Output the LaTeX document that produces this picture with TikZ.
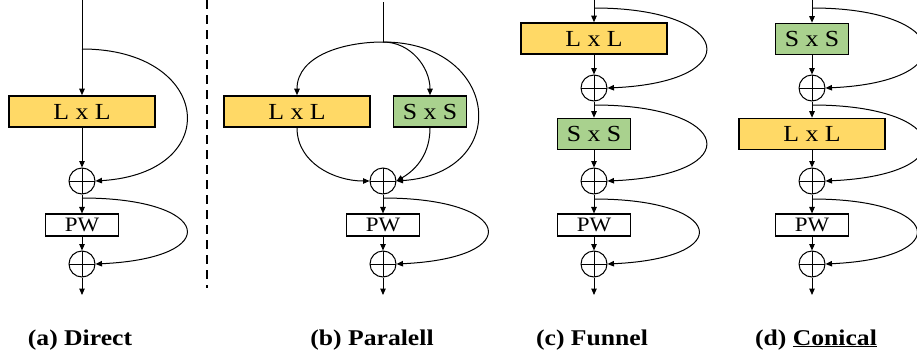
\documentclass[tikz,border=0pt]{standalone}
\usepackage{fontspec}
\setmainfont{Liberation Serif}
\newfontfamily\figfont[FakeStretch=1.12]{Liberation Serif}
\newfontfamily\capfont[FakeStretch=1.14]{Liberation Serif}
\usetikzlibrary{arrows.meta, positioning}
\definecolor{lyellow}{RGB}{255,217,102}
\definecolor{sgreen}{RGB}{169,209,142}

\begin{document}
\begin{tikzpicture}[
    x=1pt, y=1pt,
    on grid,
    >={Triangle[length=6.5pt, width=5.5pt]},
    every path/.style={line width=1pt},
    kbox/.style={draw, line width=1.6pt, inner sep=0pt, minimum height=31pt, font=\figfont\fontsize{23}{23}\selectfont},
    lbox/.style={kbox, fill=lyellow, minimum width=146pt},
    sbox/.style={kbox, fill=sgreen, minimum width=73pt},
    pwbox/.style={draw, line width=1.1pt, inner sep=0pt, minimum width=73pt, minimum height=22pt, font=\figfont\fontsize{20.5}{20.5}\selectfont},
    sumnode/.style={draw, circle, inner sep=0pt, minimum size=26pt,
        path picture={\draw[line width=0.9pt] (path picture bounding box.north) -- (path picture bounding box.south)
                                              (path picture bounding box.west) -- (path picture bounding box.east);}},
    caption/.style={anchor=base, font=\capfont\bfseries\fontsize{22.5}{22.5}\selectfont}
]
   \useasboundingbox (0,0) rectangle (917,-356);

   % (a) Direct
   \coordinate (aIn) at (82,0);
   \node[lbox] (aL) at (82,-111.5) {L x L};
   \node[sumnode] (aSum1) [below=69.5pt of aL] {};
   \node[pwbox] (aPW) [below=44pt of aSum1] {PW};
   \node[sumnode] (aSum2) [below=39pt of aPW] {};
   \coordinate[below=31pt of aSum2] (aOut);
   \coordinate (aB1) at (82,-49);
   \coordinate[below=17pt of aSum1] (aB2);

   \path[->]
   (aIn) edge (aL)
   (aL) edge (aSum1)
   (aSum1) edge (aPW)
   (aPW) edge (aSum2)
   (aSum2) edge (aOut);
   \draw[->] (aB1) .. controls +(130,0) and +(130,8) .. (aSum1.east);
   \draw[->] (aB2) .. controls +(130,0) and +(130,6) .. (aSum2.east);

   % separator
   \draw[dashed, line width=2.6pt, dash pattern=on 9pt off 6pt] (207,0) -- (207,-288);

   % (b) Paralell
   \coordinate (bIn) at (383,-2);
   \coordinate (bB) at (383,-42);
   \node[lbox] (bL) at (297,-111.5) {L x L};
   \node[sbox] (bS) at (430,-111.5) {S x S};
   \node[sumnode] (bSum1) at (383,-181) {};
   \node[pwbox] (bPW) [below=44pt of bSum1] {PW};
   \node[sumnode] (bSum2) [below=39pt of bPW] {};
   \coordinate[below=31pt of bSum2] (bOut);
   \coordinate[below=17pt of bSum1] (bB2);

   \draw (bIn) -- (bB);
   \draw[->] (bB) to[out=180, in=90] (bL.north);
   \draw[->] (bB) to[out=0, in=90] (bS.north);
   \draw[->] (bB) .. controls +(117,0) and +(117,8) .. (bSum1.east);
   \draw[->] (bL.south) to[out=-90, in=180] (bSum1.west);
   \draw[->] (bS.south) to[out=-90, in=30] (bSum1.east);
   \path[->]
   (bSum1) edge (bPW)
   (bPW) edge (bSum2)
   (bSum2) edge (bOut);
   \draw[->] (bB2) .. controls +(130,0) and +(130,6) .. (bSum2.east);

   % (c) Funnel
   \coordinate (cIn) at (594,0);
   \coordinate (cB1) at (594,-8);
   \node[lbox] (cL) at (594,-38.5) {L x L};
   \node[sumnode] (cSum1) [below=49.5pt of cL] {};
   \node[sbox] (cS) [below=46pt of cSum1] {S x S};
   \node[sumnode] (cSum2) [below=47pt of cS] {};
   \node[pwbox] (cPW) [below=44pt of cSum2] {PW};
   \node[sumnode] (cSum3) [below=39pt of cPW] {};
   \coordinate[below=31pt of cSum3] (cOut);
   \coordinate[below=17pt of cSum1] (cB2);
   \coordinate[below=18pt of cSum2] (cB3);

   \path[->]
   (cIn) edge (cL)
   (cL) edge (cSum1)
   (cSum1) edge (cS)
   (cS) edge (cSum2)
   (cSum2) edge (cPW)
   (cPW) edge (cSum3)
   (cSum3) edge (cOut);
   \draw[->] (cB1) .. controls +(140,0) and +(140,6) .. (cSum1.east);
   \draw[->] (cB2) .. controls +(140,0) and +(140,6) .. (cSum2.east);
   \draw[->] (cB3) .. controls +(130,0) and +(130,6) .. (cSum3.east);

   % (d) Conical
   \coordinate (dIn) at (812,0);
   \coordinate (dB1) at (812,-8);
   \node[sbox] (dS) at (812,-39) {S x S};
   \node[sumnode] (dSum1) [below=49pt of dS] {};
   \node[lbox] (dL) [below=46pt of dSum1] {L x L};
   \node[sumnode] (dSum2) [below=47pt of dL] {};
   \node[pwbox] (dPW) [below=44pt of dSum2] {PW};
   \node[sumnode] (dSum3) [below=39pt of dPW] {};
   \coordinate[below=31pt of dSum3] (dOut);
   \coordinate[below=17pt of dSum1] (dB2);
   \coordinate[below=18pt of dSum2] (dB3);

   \path[->]
   (dIn) edge (dS)
   (dS) edge (dSum1)
   (dSum1) edge (dL)
   (dL) edge (dSum2)
   (dSum2) edge (dPW)
   (dPW) edge (dSum3)
   (dSum3) edge (dOut);
   \draw[->] (dB1) .. controls +(140,0) and +(140,6) .. (dSum1.east);
   \draw[->] (dB2) .. controls +(140,0) and +(140,6) .. (dSum2.east);
   \draw[->] (dB3) .. controls +(130,0) and +(130,6) .. (dSum3.east);

   % captions
   \node[caption] (capA) at (80,-345) {(a) Direct};
   \node[caption] (capB) at (372,-345) {(b) Paralell};
   \node[caption] (capC) at (592,-345) {(c) Funnel};
   \node[caption] (capD) at (816,-345) {(d) \underline{Conical}};
\end{tikzpicture}
\end{document}
